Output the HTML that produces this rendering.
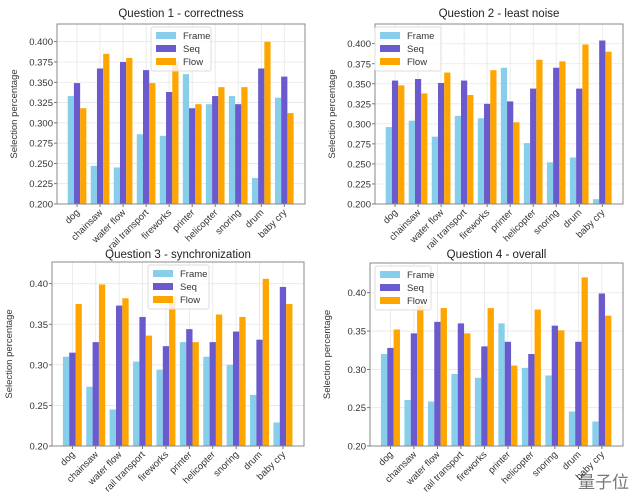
<!DOCTYPE html>
<html><head><meta charset="utf-8"><style>
body{margin:0;background:#fff;}
svg{display:block;font-family:"Liberation Sans","DejaVu Sans",sans-serif;}
</style></head><body>
<svg id="c" width="640" height="504" viewBox="0 0 640 504" xmlns="http://www.w3.org/2000/svg">
<text x="578" y="488" font-family="'Liberation Sans','Noto Sans CJK SC',sans-serif" font-size="17" fill="#777">量子位</text>
</svg>
<script>
const categories = ["dog","chainsaw","water flow","rail transport","fireworks","printer","helicopter","snoring","drum","baby cry"];
const seriesNames = ["Frame","Seq","Flow"];
const titles = ["Question 1 - correctness","Question 2 - least noise","Question 3 - synchronization","Question 4 - overall"];
const q1Frame = [0.333,0.247,0.245,0.286,0.284,0.360,0.323,0.333,0.232,0.331];
const q1Seq   = [0.349,0.367,0.375,0.365,0.338,0.318,0.333,0.323,0.367,0.357];
const q1Flow  = [0.318,0.385,0.380,0.349,0.376,0.323,0.344,0.344,0.400,0.312];
const q2Frame = [0.296,0.304,0.284,0.310,0.307,0.370,0.276,0.252,0.258,0.206];
const q2Seq   = [0.354,0.356,0.351,0.354,0.325,0.328,0.344,0.370,0.344,0.404];
const q2Flow  = [0.348,0.338,0.364,0.336,0.367,0.302,0.380,0.378,0.399,0.390];
const q3Frame = [0.310,0.273,0.245,0.304,0.294,0.328,0.310,0.300,0.263,0.229];
const q3Seq   = [0.315,0.328,0.373,0.359,0.323,0.344,0.328,0.341,0.331,0.396];
const q3Flow  = [0.375,0.399,0.382,0.336,0.382,0.328,0.362,0.359,0.406,0.375];
const q4Frame = [0.320,0.260,0.258,0.294,0.289,0.360,0.302,0.292,0.245,0.232];
const q4Seq   = [0.328,0.347,0.362,0.360,0.330,0.336,0.320,0.357,0.336,0.399];
const q4Flow  = [0.352,0.383,0.380,0.347,0.380,0.305,0.378,0.351,0.420,0.370];
const ticks12 = [0.200,0.225,0.250,0.275,0.300,0.325,0.350,0.375,0.400];
const ticks34 = [0.20,0.25,0.30,0.35,0.40];
const colors = ["#87ceeb","#6a5acd","#ffa500"];
const panels = [
 {x0:57,x1:305,y0:24,y1:204,ymax:0.4218,ticks:ticks12,dec:3,data:[q1Frame,q1Seq,q1Flow],leg:[151,27,60],ty:17},
 {x0:375,x1:623,y0:24,y1:204,ymax:0.4246,ticks:ticks12,dec:3,data:[q2Frame,q2Seq,q2Flow],leg:[375,27,66],ty:17},
 {x0:52,x1:304,y0:262,y1:446,ymax:0.4267,ticks:ticks34,dec:2,data:[q3Frame,q3Seq,q3Flow],leg:[148,265,61],ty:258},
 {x0:370,x1:623,y0:263,y1:446,ymax:0.4388,ticks:ticks34,dec:2,data:[q4Frame,q4Seq,q4Flow],leg:[375,266,56],ty:258}
];
const NS="http://www.w3.org/2000/svg";
const svg=document.getElementById('c');
function mk(tag,attrs,parent){const e=document.createElementNS(NS,tag);for(const k in attrs)e.setAttribute(k,attrs[k]);(parent||svg).appendChild(e);return e;}
panels.forEach((p,pi)=>{
  const g=mk('g',{});
  
  
  const xmin=-0.87,xmax=9.9,ymin=0.2;
  const X=v=>p.x0+(v-xmin)/(xmax-xmin)*(p.x1-p.x0);
  const Y=v=>p.y1-(v-ymin)/(p.ymax-ymin)*(p.y1-p.y0);
  // grid
  p.ticks.forEach(t=>{
    const l=mk('line',{x1:p.x0,x2:p.x1,y1:Y(t),y2:Y(t),stroke:'#e6e6e6','stroke-width':0.8},g);
    
    
    const tx=mk('text',{x:p.x0-4,y:Y(t)+3.5,'text-anchor':'end','font-size':9.5,fill:'#333'},g);
    tx.textContent=t.toFixed(p.dec);
    
    
    mk('line',{x1:p.x0-3,x2:p.x0,y1:Y(t),y2:Y(t),stroke:'#555','stroke-width':0.8},g);
  });
  categories.forEach((c,i)=>{
    mk('line',{x1:X(i),x2:X(i),y1:p.y0,y2:p.y1,stroke:'#e6e6e6','stroke-width':0.8},g);
  });
  // bars
  const w=0.27;
  p.data.forEach((arr,s)=>{
    arr.forEach((v,i)=>{
      const cx=i+(s-1)*w;
      const r=mk('rect',{x:X(cx-w/2),width:X(cx+w/2)-X(cx-w/2),y:Y(v),height:Y(ymin)-Y(v),fill:colors[s]},g);
      
      
    });
  });
  // x labels
  categories.forEach((c,i)=>{
    mk('line',{x1:X(i),x2:X(i),y1:p.y1,y2:p.y1+3,stroke:'#555','stroke-width':0.8},g);
    const tx=mk('text',{x:X(i)+3,y:p.y1+9,'text-anchor':'end','font-size':9.5,fill:'#333',transform:`rotate(-45 ${X(i)+3} ${p.y1+9})`},g);
    tx.textContent=c;
    
    
  });
  const fr=mk('rect',{x:p.x0,y:p.y0,width:p.x1-p.x0,height:p.y1-p.y0,fill:'none',stroke:'#888','stroke-width':1},g);
  
  
  const t=mk('text',{x:(p.x0+p.x1)/2,y:p.ty,'text-anchor':'middle','font-size':11.5,fill:'#222'},g);
  t.textContent=titles[pi];
  
  
  const yl=mk('text',{x:0,y:0,'text-anchor':'middle','font-size':9.5,fill:'#333',transform:`translate(${p.x0-40},${(p.y0+p.y1)/2}) rotate(-90)`},g);
  yl.textContent='Selection percentage';
  
  
  // legend
  const [lx,ly,lw]=p.leg;
  const lg=mk('g',{},g);
  
  
  mk('rect',{x:lx,y:ly,width:lw,height:44,rx:2,fill:'#fff','fill-opacity':0.8,stroke:'#ddd'},lg);
  seriesNames.forEach((n,s)=>{
    mk('rect',{x:lx+5,y:ly+5+s*13,width:20,height:7,fill:colors[s]},lg);
    const tx=mk('text',{x:lx+32,y:ly+12+s*13,'font-size':9.5,fill:'#333'},lg);
    tx.textContent=n;
    
    
  });
});
</script>
</body></html>
